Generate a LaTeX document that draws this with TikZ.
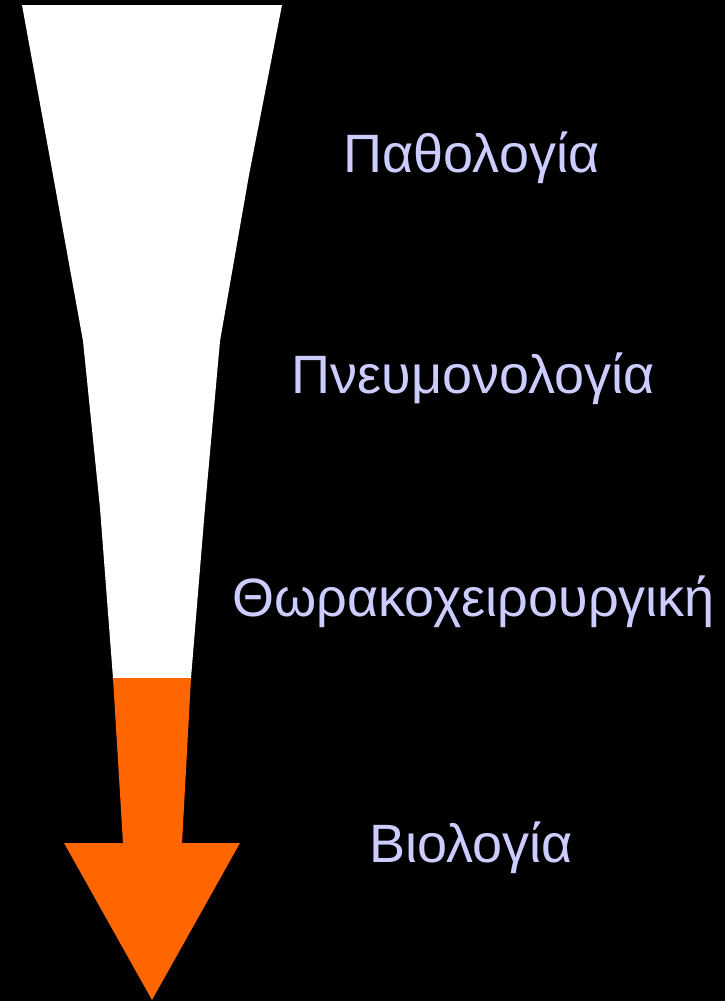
\documentclass[tikz,border=0pt]{standalone}
\usepackage{fontspec}
\setmainfont{Liberation Sans}
\definecolor{lbl}{HTML}{CCCCFF}
\definecolor{arroworange}{HTML}{FF6600}
\begin{document}
\begin{tikzpicture}[x=1pt,y=-1pt,
  lab/.style={anchor=base,text=lbl,font=\fontsize{54}{60}\selectfont,inner sep=0pt},
  seg/.style={fill=white,draw=none}]
\fill[black] (0,0) rectangle (725,1001);
\useasboundingbox (0,0) rectangle (725,1001);
% white tapered segments
\path[seg] (22,5) -- (282,5) -- (249,175) -- (220,341) -- (83,341) -- (53,175) -- cycle;
\path[seg] (83,341) -- (220,341) -- (205,508) -- (100,508) -- cycle;
\path[seg] (100,508) -- (205,508) -- (191,678) -- (113,678) -- cycle;
% orange arrow
\fill[arroworange] (113,678) -- (191,678) -- (182,843) -- (240,843) -- (152,1000) -- (64,843) -- (123,843) -- cycle;
% labels
\node[lab] (t1) at (471.5,172) {Παθολογία};
\node[lab] (t2) at (473.5,393) {Πνευμονολογία};
\node[lab] (t3) at (473.5,616) {Θωρακοχειρουργική};
\node[lab] (t4) at (471,862) {Βιολογία};
\end{tikzpicture}
\end{document}
